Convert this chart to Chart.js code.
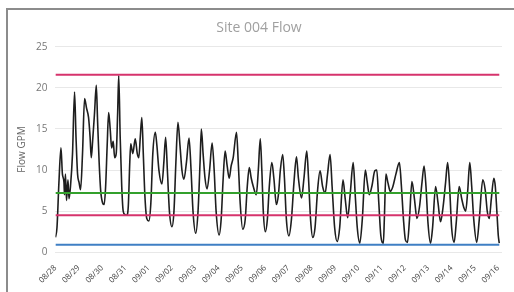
<!DOCTYPE html>
<html>
<head>
<meta charset="utf-8">
<script src="https://cdn.jsdelivr.net/npm/chart.js@4.4.0/dist/chart.umd.min.js"></script>
<style>
    body { margin: 0; background: #fff; }
    .frame { position: absolute; left: 6px; top: 8px; width: 530px; height: 300px; border: 2px solid #8c8c8c; }
    #chart { position: absolute; left: 0; top: 0; }
</style>
</head>
<body>
<div class="frame"></div>
<canvas id="chart" width="514" height="292"></canvas>
<script>
    // x values are hours since 08/28 00:00
    const dayLabels = ['08/28', '08/29', '08/30', '08/31', '09/01', '09/02', '09/03', '09/04', '09/05', '09/06',
        '09/07', '09/08', '09/09', '09/10', '09/11', '09/12', '09/13', '09/14', '09/15', '09/16'];

    const hours = [0, 1.6, 3.6, 5.7, 7.2, 8.8, 9.3, 10.3, 11.4, 12.9, 14.0, 15.5, 17.6, 19.7, 21.2, 22.8,
        24.3, 25.9, 27.9, 30.0, 32.1, 34.1, 35.7, 36.9, 38.3, 40.3, 42.1, 43.4, 45.0, 46.6,
        48.6, 50.2, 51.7, 53.3, 54.8, 56.4, 57.9, 59.5, 61.0, 62.6, 64.1, 65.2, 66.7, 68.3, 69.8,
        71.4, 73.4, 75.0, 76.6, 77.6, 79.7, 82.2, 84.3, 85.9, 87.4, 89.0, 90.5, 92.1, 94.1,
        96.2, 98.3, 100.3, 102.9, 104.5, 106.6, 109.7, 111.7, 113.5, 115.3, 117.4,
        120.0, 122.1, 124.1, 126.2, 128.3, 130.3, 132.4, 135.0, 137.6, 139.7, 141.7,
        144.5, 146.9, 149.0, 150.3, 152.1, 154.1, 156.2, 158.8, 161.4, 163.5, 165.5,
        168.6, 170.7, 172.8, 174.8, 176.9, 179.0, 181.0, 183.1, 186.5, 188.3, 190.3,
        192.9, 195.5, 197.6, 199.7, 201.7, 203.8, 206.9, 209.0, 211.0, 212.6, 214.1,
        216.2, 218.3, 220.3, 222.9, 225.0, 227.6, 229.7, 231.7, 234.1, 235.9, 237.9,
        240.5, 243.1, 245.7, 248.3, 250.3, 253.5, 256.0, 258.9, 260.7, 262.8,
        265.1, 267.4, 270.0, 272.6, 275.2, 277.8, 280.3, 282.9, 285.0, 287.6,
        290.2, 292.8, 296.2, 298.5, 301.0, 303.6, 306.7, 308.8, 310.9,
        313.5, 316.1, 319.2, 321.2, 323.3, 325.9, 329.0, 331.0, 333.1, 335.2,
        337.8, 338.8, 340.4, 342.4, 345.0, 347.6, 350.7, 354.3, 356.4, 358.5,
        360.5, 362.6, 364.7, 367.2, 369.8, 372.4, 375.0, 377.6, 379.7, 381.7, 383.8,
        386.4, 388.5, 391.6, 394.1, 396.7, 399.3, 401.9, 404.0, 406.0, 408.1,
        410.7, 412.8, 415.9, 418.5, 420.5, 422.6, 424.7, 426.8, 428.8, 430.9,
        434.0, 436.6, 440.2, 442.8, 444.8, 446.9, 449.0, 451.6, 453.1, 454.7, 456.2, 457.2];

    const flow = [1.8, 3.0, 8.5, 12.7, 9.5, 8.5, 7.0, 9.5, 6.3, 8.8, 6.5, 8.0, 12.0, 19.5, 14.0, 9.5,
        8.5, 7.6, 12.0, 18.7, 17.5, 16.4, 14.0, 11.5, 13.5, 17.0, 20.3, 16.0, 11.0, 7.5,
        6.0, 5.8, 8.0, 13.0, 17.0, 15.0, 12.7, 13.5, 11.5, 12.0, 17.0, 21.5, 14.0, 8.0, 5.0,
        4.6, 4.5, 5.5, 11.0, 13.2, 12.0, 13.8, 12.0, 11.5, 14.0, 16.4, 12.0, 7.0, 4.1,
        3.8, 6.0, 12.0, 14.6, 13.0, 10.0, 8.3, 11.0, 14.0, 10.0, 5.0,
        3.1, 5.0, 11.0, 15.8, 13.0, 10.0, 8.9, 11.0, 13.9, 10.0, 5.0,
        2.3, 5.0, 11.0, 15.0, 12.0, 9.0, 7.7, 10.0, 13.3, 10.0, 5.0,
        2.1, 4.0, 9.0, 12.3, 10.5, 9.0, 10.5, 11.5, 14.6, 11.0, 6.0,
        2.8, 4.0, 8.0, 10.3, 9.0, 8.0, 7.0, 10.0, 13.8, 10.0, 5.0,
        2.5, 4.0, 8.0, 10.9, 9.0, 5.8, 7.0, 10.0, 11.9, 9.0, 4.0,
        2.0, 4.0, 8.5, 11.6, 9.0, 6.6, 9.0, 12.3, 9.0, 4.0,
        1.8, 3.0, 7.5, 9.9, 8.0, 7.2, 9.5, 11.9, 8.0, 3.0,
        1.3, 3.0, 8.8, 6.5, 4.2, 7.0, 10.9, 7.0, 3.0,
        1.1, 4.0, 10.0, 8.5, 7.0, 8.0, 9.9, 10.0, 6.0, 2.0,
        1.1, 4.0, 9.5, 8.5, 7.4, 8.0, 9.5, 10.9, 8.0, 4.0,
        1.5, 1.2, 4.0, 8.6, 6.5, 4.1, 5.5, 8.5, 10.5, 8.0, 3.5,
        1.1, 3.0, 8.0, 6.0, 3.7, 5.5, 8.5, 10.9, 8.0, 3.0,
        1.2, 3.5, 8.0, 6.5, 5.5, 5.0, 7.5, 10.9, 8.0, 4.0,
        1.2, 4.0, 8.8, 7.5, 5.0, 4.1, 6.5, 9.0, 8.0, 5.0, 2.0, 1.1];

    // reference lines (GPM), drawn across the whole period
    const limitValues = [21.6, 7.2, 4.5, 0.9];
    const limitColors = ['#d6336c', '#33a02c', '#d6336c', '#3f7fc4'];
    const lineStart = 0;
    const lineEnd = 457.2;

    const flowPoints = hours.map((h, i) => ({ x: h, y: flow[i] }));

    const limitSets = limitValues.map((v, i) => ({
        data: [{ x: lineStart, y: v }, { x: lineEnd, y: v }],
        borderColor: limitColors[i],
        borderWidth: 2,
        pointRadius: 0
    }));

    new Chart(document.getElementById('chart'), {
        type: 'line',
        data: {
            datasets: [
                ...limitSets,
                {
                    data: flowPoints,
                    borderColor: '#1e1e1e',
                    borderWidth: 1.6,
                    pointRadius: 0,
                    cubicInterpolationMode: 'monotone'
                }
            ]
        },
        options: {
            responsive: false,
            animation: false,
            layout: { padding: { left: 16, right: 12, top: 20, bottom: 4 } },
            plugins: {
                legend: { display: false },
                tooltip: { enabled: false },
                title: {
                    display: true,
                    text: 'Site 004 Flow',
                    color: '#a0a0a0',
                    font: { family: 'Open Sans', size: 14, weight: 'normal' },
                    padding: { top: 0, bottom: 10 }
                }
            },
            scales: {
                x: {
                    type: 'linear',
                    min: 0,
                    max: 460,
                    grid: { display: false },
                    border: { display: false },
                    ticks: {
                        stepSize: 24,
                        includeBounds: false,
                        autoSkip: false,
                        minRotation: 45,
                        maxRotation: 45,
                        color: '#444',
                        font: { family: 'Open Sans', size: 8 },
                        callback: (v) => dayLabels[v / 24] || ''
                    }
                },
                y: {
                    min: 0,
                    max: 25,
                    grid: { color: '#e8e8e8', drawTicks: false },
                    border: { display: false },
                    ticks: {
                        stepSize: 5,
                        padding: 8,
                        color: '#777',
                        font: { family: 'Open Sans', size: 10 }
                    },
                    title: {
                        display: true,
                        text: 'Flow GPM',
                        color: '#666',
                        font: { family: 'Open Sans', size: 10 },
                        padding: { top: 0, bottom: 0 }
                    }
                }
            }
        }
    });
</script>
</body>
</html>
